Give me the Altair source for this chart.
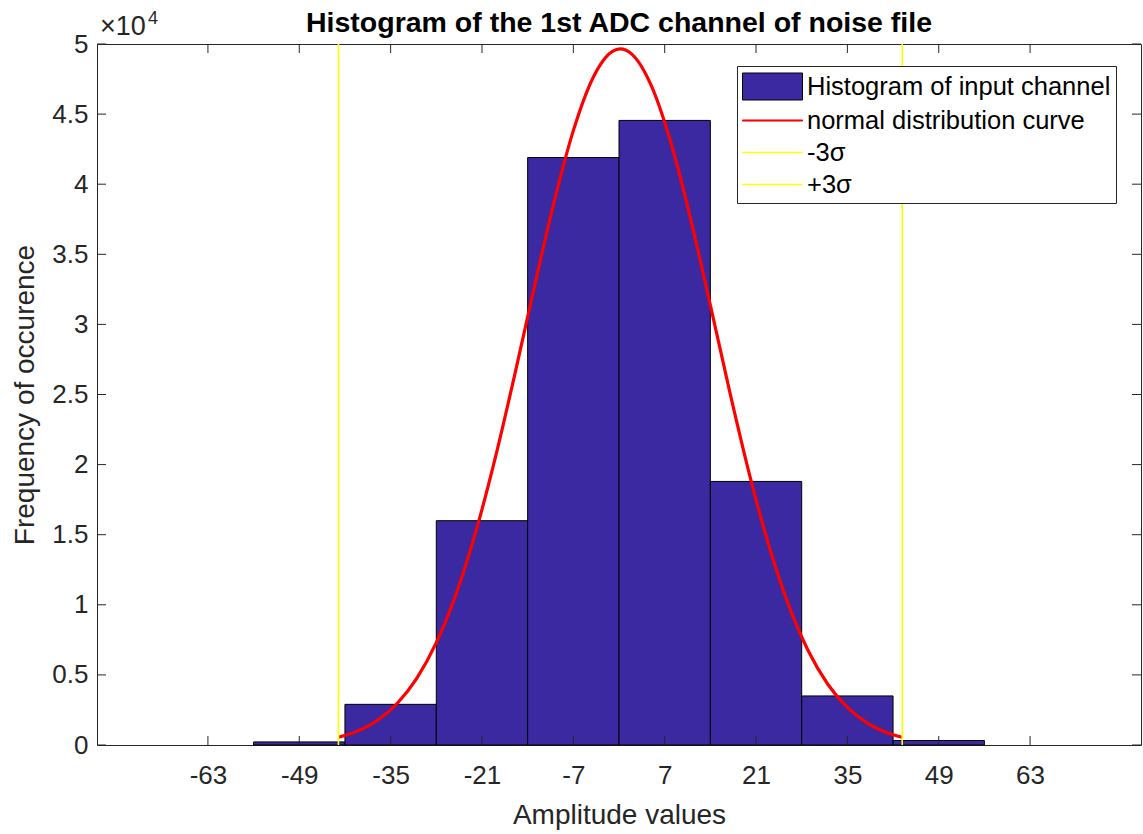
import altair as alt
import pandas as pd

# ---------------- data ----------------
bin_edges = [-56, -42, -28, -14, 0, 14, 28, 42, 56]
bin_counts = [220, 2900, 16000, 41900, 44550, 18800, 3500, 320]

curve_x = [-43, -40, -37, -34, -31, -28, -25, -22, -19, -16, -13, -10, -7, -4, -1, 0.2,
           2, 5, 8, 11, 14, 17, 20, 23, 26, 29, 32, 35, 38, 41, 43.4]
curve_y = [552, 1008, 1765, 2960, 4750, 7300, 10740, 15130, 20410, 26370, 32620, 38640,
           43820, 47580, 49480, 49650, 49260, 46970, 42880, 37480, 31370, 25140, 19290,
           14180, 9975, 6720, 4335, 2677, 1584, 897, 552]

sigma_x = [-43.0, 43.4]
sigma_names = ["-3σ", "+3σ"]

x_tick_values = [-63, -49, -35, -21, -7, 7, 21, 35, 49, 63]
y_tick_values = [0, 5000, 10000, 15000, 20000, 25000, 30000, 35000, 40000, 45000, 50000]

legend_labels = ["Histogram of input channel", "normal distribution curve", "-3σ", "+3σ"]
exponent_base = ["×10"]
exponent_power = ["4"]

title_text = ["Histogram of the 1st ADC channel of noise file"]
x_title = "Amplitude values"
y_title = "Frequency of occurence"

# ---------------- styles ----------------
W, H = 1044, 701
BAR = "#3a29a0"
RED = "#ff0000"
YEL = "#ffff00"
AX = "#262626"
FONT = "Liberation Sans"
TICK = 9

xscale = alt.Scale(domain=[-80, 80], nice=False, zero=False)
yscale = alt.Scale(domain=[0, 50000], nice=False, zero=True)

bars_df = pd.DataFrame({"x": bin_edges[:-1], "x2": bin_edges[1:], "y": bin_counts})
curve_df = pd.DataFrame({"x": curve_x, "y": curve_y})
sigma_df = pd.DataFrame({"x": sigma_x, "name": sigma_names})
xt_df = pd.DataFrame({"x": x_tick_values})
yt_df = pd.DataFrame({"y": y_tick_values})
leg_df = pd.DataFrame({"label": legend_labels})

x_axis = alt.Axis(values=x_tick_values, ticks=False, domain=False, grid=False,
                  labelFontSize=26, labelPadding=17, labelColor=AX, labelFlush=False,
                  labelExpr="'' + datum.value",
                  titleFontSize=28, titleFontWeight="normal", titleColor=AX,
                  titleY=78, titleBaseline="alphabetic")
y_axis = alt.Axis(values=y_tick_values, ticks=False, domain=False, grid=False,
                  labelFontSize=26, labelPadding=9, labelColor=AX,
                  labelExpr="'' + (datum.value / 10000)",
                  titleFontSize=28, titleFontWeight="normal", titleColor=AX,
                  titleAngle=270, titleX=-64, titleY=H / 2, titleAlign="center",
                  titleBaseline="alphabetic")

X = alt.X("x:Q", scale=xscale, axis=x_axis, title=x_title)
Y = alt.Y("y:Q", scale=yscale, axis=y_axis, title=y_title)

bars = alt.Chart(bars_df).mark_rect(color=BAR, stroke="black", strokeWidth=1).encode(
    x=X, x2="x2:Q", y=Y, y2=alt.datum(0),
)

curve = alt.Chart(curve_df).mark_line(color=RED, strokeWidth=3.2, interpolate="monotone").encode(
    x=X, y=Y,
)

sigmas = alt.Chart(sigma_df).mark_rule(color=YEL, strokeWidth=1.6).encode(x=X)

tick_style = dict(color=AX, strokeWidth=1)
ticks_bottom = alt.Chart(xt_df).mark_rule(**tick_style).encode(
    x=X, y=alt.value(H), y2=alt.value(H - TICK))
ticks_top = alt.Chart(xt_df).mark_rule(**tick_style).encode(
    x=X, y=alt.value(0), y2=alt.value(TICK))
ticks_left = alt.Chart(yt_df).mark_rule(**tick_style).encode(
    y=Y, x=alt.value(0), x2=alt.value(TICK))
ticks_right = alt.Chart(yt_df).mark_rule(**tick_style).encode(
    y=Y, x=alt.value(W), x2=alt.value(W - TICK))

legend_def = alt.Legend(
    title=None, orient="none", legendX=640, legendY=22,
    strokeColor=AX, fillColor="white", padding=5, cornerRadius=0,
    symbolSize=900, symbolStrokeWidth=1, symbolOffset=0, labelOffset=34,
    labelFontSize=25.5, labelColor="black", rowPadding=3, labelLimit=500,
)
paths = ["M-1,-0.9H3V0.9H-1Z", "M-1,-0.035H3V0.035H-1Z",
         "M-1,-0.017H3V0.017H-1Z", "M-1,-0.017H3V0.017H-1Z"]
legend_layer = alt.Chart(leg_df).transform_filter("false").mark_point(filled=True, opacity=1).encode(
    fill=alt.Fill("label:N", scale=alt.Scale(domain=legend_labels, range=[BAR, RED, YEL, YEL]),
                  legend=legend_def),
    stroke=alt.Stroke("label:N", scale=alt.Scale(domain=legend_labels, range=["black", RED, YEL, YEL]),
                      legend=legend_def),
    shape=alt.Shape("label:N", scale=alt.Scale(domain=legend_labels, range=paths),
                    legend=legend_def),
)

title_mark = alt.Chart(pd.DataFrame({"t": title_text})).mark_text(
    align="center", baseline="alphabetic", fontSize=28.5, fontWeight="bold", color="black").encode(
    x=alt.value(W / 2), y=alt.value(-12), text="t:N")
exp_base = alt.Chart(pd.DataFrame({"t": exponent_base})).mark_text(
    align="left", baseline="alphabetic", fontSize=27, color=AX).encode(
    x=alt.value(3), y=alt.value(-9), text="t:N")
exp_pow = alt.Chart(pd.DataFrame({"t": exponent_power})).mark_text(
    align="left", baseline="alphabetic", fontSize=18, color=AX).encode(
    x=alt.value(51), y=alt.value(-20), text="t:N")

chart = alt.layer(
    bars, curve, sigmas, ticks_bottom, ticks_top, ticks_left, ticks_right,
    legend_layer, title_mark, exp_base, exp_pow,
).properties(
    width=W, height=H,
    autosize=alt.AutoSizeParams(type="none"),
    padding={"left": 97, "top": 44, "right": 2, "bottom": 89},
).configure(
    font=FONT, background="white",
).configure_view(
    stroke=AX, strokeWidth=1,
)

chart.save("out.html", embed_options={"renderer": "svg", "actions": False})
